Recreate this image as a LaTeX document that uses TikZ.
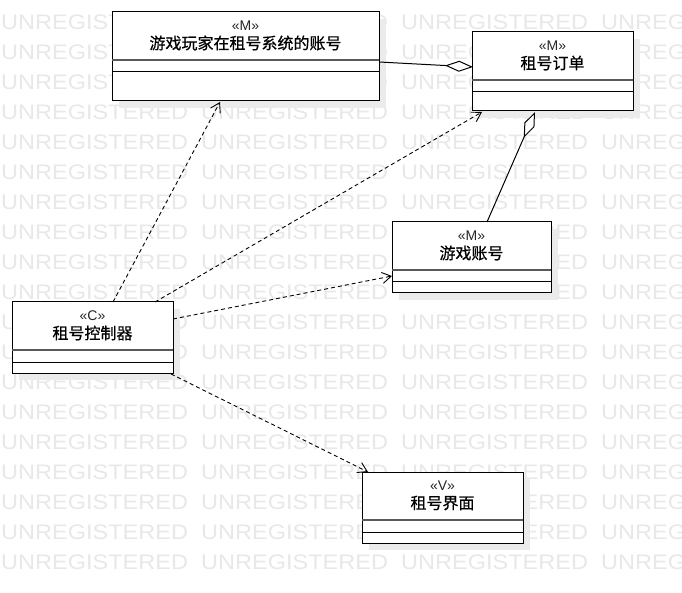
\documentclass[tikz,border=0pt]{standalone}
\usepackage{fontspec}
\setmainfont{Liberation Sans}
\newfontfamily\cjk[FakeBold=0.6]{Noto Sans CJK SC}
\usetikzlibrary{arrows.meta,calc,shadows}
\begin{document}
\begin{tikzpicture}[x=1pt,y=-1pt,
  wm/.style={text=black!9, font=\fontsize{21}{21}\selectfont, inner sep=0, anchor=west},
  umlbox/.style={draw=black, line width=1pt, fill=white, anchor=north west, inner sep=0, outer sep=0,
    drop shadow={shadow xshift=7pt, shadow yshift=-7pt, fill=black!8, opacity=1}},
  stereo/.style={font=\fontsize{14}{14}\selectfont, text=black!85, inner sep=0},
  cname/.style={font=\cjk\fontsize{16}{16}\selectfont, inner sep=0},
  sepa/.style={line width=1.6pt, draw=black!65},
  sepb/.style={line width=1pt, draw=black},
  dep/.style={dash pattern=on 4pt off 3pt, line width=0.9pt, -{Straight Barb[length=9pt,width=11pt]}},
  agg/.style={line width=1pt, -{Diamond[open,fill=white,length=28pt,width=11pt]}}]
\useasboundingbox (0,0) rectangle (682,593);
\clip (0,0) rectangle (682,593);
\fill[white] (0,0) rectangle (682,593);
% watermark
\foreach \i in {0,...,3}{
  \foreach \j in {0,...,18}{
    \node[wm] (wm-\i-\j) at ({1+200*\i},{22.5+30*\j}) {\scalebox{1.12}[1]{UNREGISTERED}};
  }
}
% boxes
\node[umlbox, minimum width=267pt, minimum height=89pt] (b1) at (112,12) {};
\node[umlbox, minimum width=161pt, minimum height=79pt] (b2) at (472,32) {};
\node[umlbox, minimum width=159pt, minimum height=71pt] (b3) at (392,222) {};
\node[umlbox, minimum width=161pt, minimum height=71pt] (b4) at (12,302) {};
\node[umlbox, minimum width=161pt, minimum height=71pt] (b5) at (362,472) {};
\foreach \b in {b1,b2,b3,b4,b5}{
  \draw[sepa] ($(\b.north west)+(0,48)$) -- ($(\b.north east)+(0,48)$);
  \draw[sepb] ($(\b.north west)+(0,60)$) -- ($(\b.north east)+(0,60)$);
}
% texts
\node[stereo] (b1s) at ($(b1.north)+(0,14)$) {«M»};
\node[cname] (b1n) at ($(b1.north)+(0,31)$) {游戏玩家在租号系统的账号};
\node[stereo] (b2s) at ($(b2.north)+(0,14)$) {«M»};
\node[cname] (b2n) at ($(b2.north)+(0,31)$) {租号订单};
\node[stereo] (b3s) at ($(b3.north)+(0,14)$) {«M»};
\node[cname] (b3n) at ($(b3.north)+(0,31)$) {游戏账号};
\node[stereo] (b4s) at ($(b4.north)+(0,14)$) {«C»};
\node[cname] (b4n) at ($(b4.north)+(0,31)$) {租号控制器};
\node[stereo] (b5s) at ($(b5.north)+(0,14)$) {«V»};
\node[cname] (b5n) at ($(b5.north)+(0,31)$) {租号界面};
% connectors
\draw[agg] ($(b1.north east)+(0,50)$) -- ($(b2.north west)+(1,35)$);
\draw[agg] ($(b3.north west)+(95,0)$) -- ($(b2.south west)+(63,1)$);
\draw[dep] ($(b4.north west)+(101,0)$) -- ($(b1.south west)+(108,1)$);
\draw[dep] ($(b4.north west)+(143,0)$) -- ($(b2.south west)+(10,1)$);
\draw[dep] ($(b4.north east)+(0,17)$) -- ($(b3.north west)+(0,54)$);
\draw[dep] ($(b4.south east)+(-2,1)$) -- ($(b5.north west)+(6,0)$);
\end{tikzpicture}
\end{document}
